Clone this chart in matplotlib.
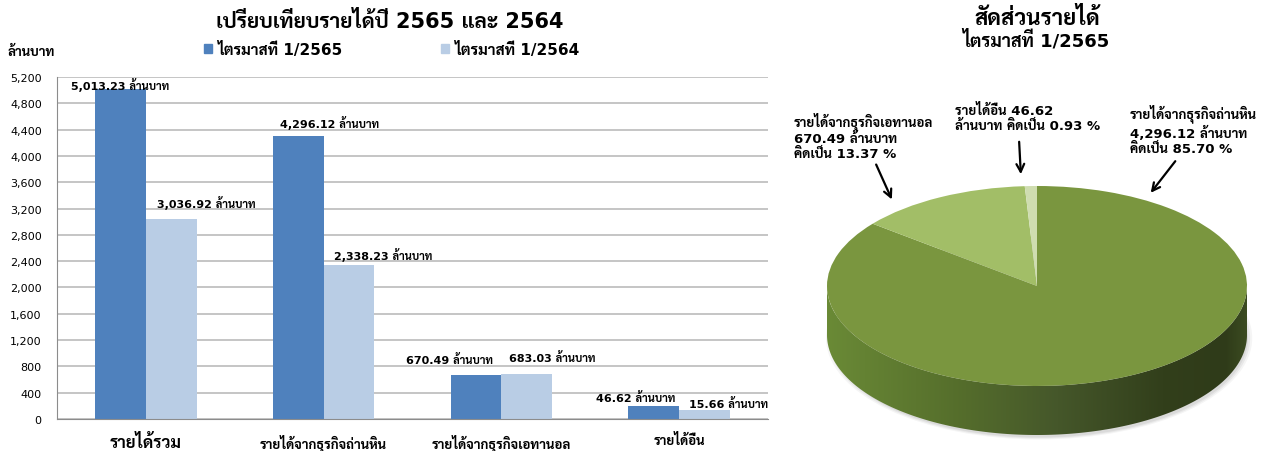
import matplotlib
matplotlib.use('Agg')
import matplotlib.pyplot as plt
import numpy as np
from matplotlib import font_manager as fm
from matplotlib.path import Path
from matplotlib.patches import PathPatch, Ellipse, Patch
from matplotlib.colors import LinearSegmentedColormap

# ---------------- font with Thai glyphs ----------------
def thai_families():
    found = {}
    try:
        from fontTools.ttLib import TTFont
    except Exception:
        return found
    for f in fm.fontManager.ttflist:
        try:
            tt = TTFont(f.fname, fontNumber=0, lazy=True)
            cmap = tt.getBestCmap()
            if cmap and 0x0E01 in cmap and 0x0E49 in cmap:
                w = f.weight if isinstance(f.weight, int) else 400
                found.setdefault(f.name, set()).add(w)
        except Exception:
            continue
    return found

cands = thai_families()
pref = ['Tahoma', 'Sarabun', 'IBM Plex Sans Thai', 'Noto Sans Thai', 'Loma', 'Anuphan']
thai = None
for p in pref:
    if p in cands and max(cands[p]) >= 600:
        thai = p
        break
if thai is None:
    for p in pref:
        if p in cands:
            thai = p
            break
if thai is None and cands:
    thai = list(cands)[0]
FAMILY = ['DejaVu Sans'] + ([thai] if thai else [])
plt.rcParams['font.family'] = FAMILY

# ---------------- data ----------------
title = 'เปรียบเทียบรายได้ปี 2565 และ 2564'
unit_label = 'ล้านบาท'
categories = ['รายได้รวม', 'รายได้จากธุรกิจถ่านหิน', 'รายได้จากธุรกิจเอทานอล', 'รายได้อื่น']
series_names = ['ไตรมาสที่ 1/2565', 'ไตรมาสที่ 1/2564']
values_2565 = [5013.23, 4296.12, 670.49, 195]   # bar heights as drawn
values_2564 = [3036.92, 2338.23, 683.03, 140]
labels_2565 = ['5,013.23 ล้านบาท', '4,296.12 ล้านบาท', '670.49 ล้านบาท', '46.62 ล้านบาท']
labels_2564 = ['3,036.92 ล้านบาท', '2,338.23 ล้านบาท', '683.03 ล้านบาท', '15.66 ล้านบาท']
y_ticks = [0, 400, 800, 1200, 1600, 2000, 2400, 2800, 3200, 3600, 4000, 4400, 4800, 5200]

pie_title = 'สัดส่วนรายได้'
pie_subtitle = 'ไตรมาสที่ 1/2565'
pie_names = ['รายได้จากธุรกิจถ่านหิน', 'รายได้จากธุรกิจเอทานอล', 'รายได้อื่น']
pie_values = [4296.12, 670.49, 46.62]
pie_percents = [85.70, 13.37, 0.93]
pie_label_texts = [
    'รายได้จากธุรกิจถ่านหิน\n4,296.12 ล้านบาท\nคิดเป็น 85.70 %',
    'รายได้จากธุรกิจเอทานอล\n670.49 ล้านบาท\nคิดเป็น 13.37 %',
    'รายได้อื่น 46.62\nล้านบาท คิดเป็น 0.93 %',
]

# ---------------- figure ----------------
W, H = 1279, 452
fig = plt.figure(figsize=(W / 100, H / 100), dpi=100)
fig.patch.set_facecolor('white')

def fx(px):
    return px / W

def fy(py):
    return 1 - py / H

C_DARK = '#4f81bd'
C_LIGHT = '#b9cde5'

ax = fig.add_axes([fx(57), fy(420), fx(768 - 57), (420 - 78) / H])
x = np.arange(len(categories))
bw = 0.285
b1 = ax.bar(x - bw / 2, values_2565, bw, color=C_DARK, zorder=2)
b2 = ax.bar(x + bw / 2, values_2564, bw, color=C_LIGHT, zorder=2)
ax.set_xlim(-0.5, len(categories) - 0.5)
ax.set_ylim(0, 5200)
ax.set_yticks(y_ticks)
ax.set_yticklabels([f'{v:,}' for v in y_ticks], fontsize=8)
ax.yaxis.grid(True, color='#c0c0c0', lw=1.3)
ax.set_axisbelow(True)
for s in ['top', 'right']:
    ax.spines[s].set_visible(False)
ax.spines['left'].set_color('#8c8c8c')
ax.spines['bottom'].set_color('#8c8c8c')
ax.tick_params(axis='y', length=0, pad=11)
ax.tick_params(axis='x', length=0, pad=10)
ax.set_xticks(x)
ax.set_xticklabels(categories)
for i, t in enumerate(ax.get_xticklabels()):
    t.set_fontweight('bold')
    t.set_fontsize(12 if i == 0 else 9.5)

# data-label offsets in pixels (dx, dy from bar top centre)
off_2565 = [(0, 5), (31, 14), (-27, 16), (-18, 9)]
off_2564 = [(35, 17), (34, 11), (26, 17), (24, 7)]
for bars, labs, offs in ((b1, labels_2565, off_2565), (b2, labels_2564, off_2564)):
    for r, lab, (dx, dy) in zip(bars, labs, offs):
        ax.annotate(lab, (r.get_x() + r.get_width() / 2, r.get_height()),
                    xytext=(dx * 0.72, dy * 0.72), textcoords='offset points',
                    ha='center', va='center', fontsize=8, fontweight='bold',
                    annotation_clip=False)

fig.text(fx(390), fy(22), title, ha='center', va='center', fontsize=15, fontweight='bold')
fig.text(fx(8), fy(52), unit_label, ha='left', va='center', fontsize=9.5, fontweight='bold')
handles = [Patch(color=C_DARK), Patch(color=C_LIGHT)]
fig.legend(handles, series_names, loc='center', ncol=2, mode='expand', frameon=False,
           bbox_to_anchor=(fx(204), fy(58), fx(580 - 204), 16 / H),
           prop=dict(size=11, weight='bold'), handlelength=0.5, handleheight=0.5,
           handletextpad=0.4, borderpad=0, borderaxespad=0)

# ---------------- 3-D looking pie ----------------
cx, cy, ra, rb, depth_px = 1037, 287, 210, 100, 49
bx0, bx1, by0, by1 = 800, 1279, 170, 452
axp = fig.add_axes([fx(bx0), fy(by1), fx(bx1 - bx0), (by1 - by0) / H])
d = depth_px / rb

for k, al in enumerate([0.04, 0.05, 0.06]):
    e = Ellipse((0.01, -d - 0.03), 2.03 - 0.02 * k, 2.03 - 0.02 * k, color='#000000', alpha=al,
                lw=0, zorder=0)
    axp.add_patch(e)

th = np.linspace(np.pi, 2 * np.pi, 200)
verts = np.concatenate([np.column_stack([np.cos(th), np.sin(th)]),
                        np.column_stack([np.cos(th[::-1]), np.sin(th[::-1]) - d])])
side_path = Path(np.vstack([verts, verts[:1]]),
                 [Path.MOVETO] + [Path.LINETO] * (len(verts) - 1) + [Path.CLOSEPOLY])
side_patch = PathPatch(side_path, transform=axp.transData, facecolor='none', edgecolor='none')
axp.add_patch(side_patch)
cmap = LinearSegmentedColormap.from_list('side', [(0, '#6a8a36'), (0.3, '#566f2c'),
                                                  (0.55, '#45572a'), (0.8, '#323f1b'),
                                                  (0.95, '#2f3b19'), (1, '#3b4b21')])
grad = np.linspace(0, 1, 256)[None, :]
im = axp.imshow(grad, cmap=cmap, extent=(-1, 1, -1 - d, 0), aspect='auto', zorder=1,
                interpolation='bilinear')
im.set_clip_path(side_patch)

wedges, _ = axp.pie(pie_values, colors=['#7a963f', '#a2be67', '#cfddb0'], startangle=90,
                    counterclock=False, radius=1, center=(0, 0),
                    wedgeprops=dict(linewidth=0, zorder=2))
axp.set_aspect('auto')
axp.set_xlim((bx0 - cx) / ra, (bx1 - cx) / ra)
axp.set_ylim((cy - by1) / rb, (cy - by0) / rb)
axp.axis('off')

fig.text(fx(1037), fy(25), pie_title, ha='center', va='baseline', fontsize=16,
         fontweight='bold')
fig.text(fx(1036), fy(46), pie_subtitle, ha='center', va='baseline', fontsize=13,
         fontweight='bold')

lab_pos = [(1130, 130), (794, 136.5), (955, 118.5)]
for txt, (px, py) in zip(pie_label_texts, lab_pos):
    fig.text(fx(px), fy(py), txt, ha='left', va='center', fontsize=9.5, fontweight='bold',
             linespacing=1.2)

arrows = [((1177, 160), (1149, 196)), ((875, 163), (893, 203)), ((1019, 140), (1021, 178))]
for (tx, ty), (hx, hy) in arrows:
    axp.annotate('', xy=(hx, H - hy), xycoords='figure pixels',
                 xytext=(tx, H - ty), textcoords='figure pixels',
                 arrowprops=dict(arrowstyle='->', lw=1.6, color='black', mutation_scale=14),
                 annotation_clip=False)

fig.savefig('out.png', dpi=100, facecolor='white')
